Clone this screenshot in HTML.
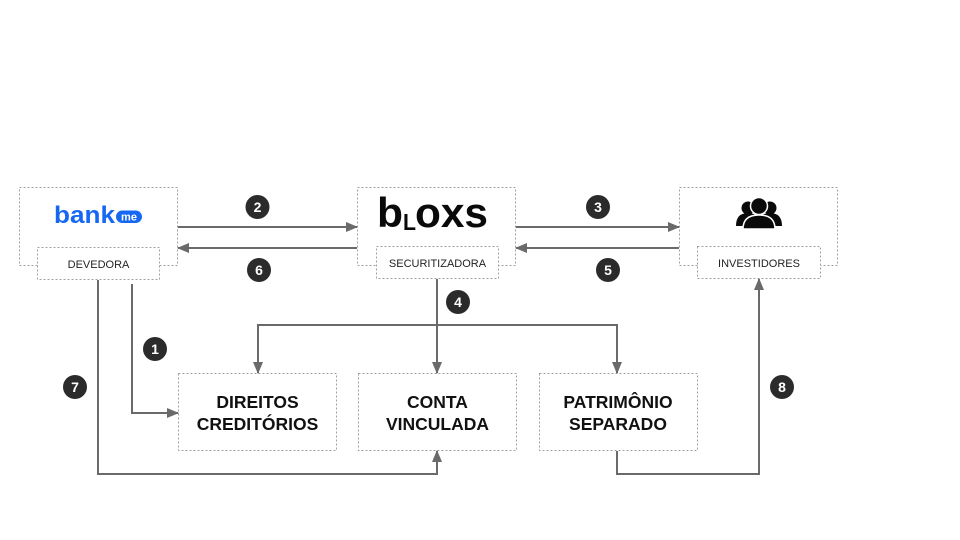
<!DOCTYPE html>
<html><head><meta charset="utf-8">
<style>
html,body{margin:0;padding:0;background:#fff;}
svg{display:block;}
</style></head>
<body>
<svg width="960" height="540" viewBox="0 0 960 540" xmlns="http://www.w3.org/2000/svg">
<defs>
<marker id="ah" markerWidth="12" markerHeight="10" refX="11" refY="5" orient="auto" markerUnits="userSpaceOnUse">
<path d="M0,0 L12,5 L0,10 Z" fill="#6a6a6a"/>
</marker>
</defs>
<rect width="960" height="540" fill="#fff"/>

<g fill="#fff" stroke="#a0a0a0" stroke-width="1" stroke-dasharray="2,2">
<rect x="19.5" y="187.5" width="158" height="78"/>
<rect x="357.5" y="187.5" width="158" height="78"/>
<rect x="679.5" y="187.5" width="158" height="78"/>
<rect x="37.5" y="247.5" width="122" height="32"/>
<rect x="376.5" y="246.5" width="122" height="32"/>
<rect x="697.5" y="246.5" width="123" height="32"/>
<rect x="178.5" y="373.5" width="158" height="77"/>
<rect x="358.5" y="373.5" width="158" height="77"/>
<rect x="539.5" y="373.5" width="158" height="77"/>
</g>

<g stroke="#6a6a6a" stroke-width="2" fill="none">
<line x1="178" y1="227" x2="357" y2="227" marker-end="url(#ah)"/>
<line x1="357" y1="248" x2="178" y2="248" marker-end="url(#ah)"/>
<line x1="516" y1="227" x2="679" y2="227" marker-end="url(#ah)"/>
<line x1="679" y1="248" x2="516" y2="248" marker-end="url(#ah)"/>
<polyline points="132,284 132,413 178,413" marker-end="url(#ah)"/>
<polyline points="98,280 98,474 437,474 437,451" marker-end="url(#ah)"/>
<line x1="437" y1="279" x2="437" y2="373" marker-end="url(#ah)"/>
<polyline points="437,325 258,325 258,373" marker-end="url(#ah)"/>
<polyline points="437,325 617,325 617,373" marker-end="url(#ah)"/>
<polyline points="617,451 617,474 759,474 759,279" marker-end="url(#ah)"/>
</g>

<g font-family="Liberation Sans, sans-serif" font-weight="bold" font-size="14" fill="#fff" text-anchor="middle">
<circle cx="257.5" cy="207" r="12" fill="#2b2b2b"/><text x="257.5" y="212">2</text>
<circle cx="259" cy="270" r="12" fill="#2b2b2b"/><text x="259" y="275">6</text>
<circle cx="598" cy="207" r="12" fill="#2b2b2b"/><text x="598" y="212">3</text>
<circle cx="608" cy="270" r="12" fill="#2b2b2b"/><text x="608" y="275">5</text>
<circle cx="458" cy="302" r="12" fill="#2b2b2b"/><text x="458" y="307">4</text>
<circle cx="155" cy="349" r="12" fill="#2b2b2b"/><text x="155" y="354">1</text>
<circle cx="75" cy="387" r="12" fill="#2b2b2b"/><text x="75" y="392">7</text>
<circle cx="782" cy="387" r="12" fill="#2b2b2b"/><text x="782" y="392">8</text>
</g>

<g font-family="Liberation Sans, sans-serif" font-size="11" fill="#222" text-anchor="middle">
<text x="98.5" y="268">DEVEDORA</text>
<text x="437.5" y="267">SECURITIZADORA</text>
<text x="759" y="267">INVESTIDORES</text>
</g>

<g font-family="Liberation Sans, sans-serif" font-weight="bold" font-size="17.5" fill="#111" text-anchor="middle">
<text x="257.5" y="408">DIREITOS</text>
<text x="257.5" y="430">CREDITÓRIOS</text>
<text x="437.5" y="408">CONTA</text>
<text x="437.5" y="430">VINCULADA</text>
<text x="618" y="408">PATRIMÔNIO</text>
<text x="618" y="430">SEPARADO</text>
</g>

<g>
<text x="54" y="223" font-family="Liberation Sans, sans-serif" font-weight="bold" font-size="24" fill="#1668f2" textLength="61" lengthAdjust="spacingAndGlyphs">bank</text>
<rect x="116" y="210.5" width="26" height="12.5" rx="6.25" fill="#1668f2"/>
<text x="129" y="220.5" font-family="Liberation Sans, sans-serif" font-weight="bold" font-size="11" fill="#fff" text-anchor="middle">me</text>
</g>

<g font-family="Liberation Sans, sans-serif" font-weight="bold" fill="#0a0a0a">
<text x="377" y="227" font-size="42" textLength="26" lengthAdjust="spacingAndGlyphs">b</text>
<text x="403" y="230" font-size="23" textLength="13" lengthAdjust="spacingAndGlyphs">L</text>
<text x="415" y="227" font-size="42" textLength="73" lengthAdjust="spacingAndGlyphs">oxs</text>
</g>

<g fill="#0a0a0a">
<circle cx="748" cy="208" r="6.5"/>
<circle cx="770" cy="208" r="6.5"/>
<path d="M736,226 Q736,213 748,213 Q760,213 760,226 Z"/>
<path d="M758,226 Q758,213 770,213 Q782,213 782,226 Z"/>
<circle cx="759" cy="206" r="8.5" stroke="#fff" stroke-width="1.5"/>
<path d="M743,229 Q743,215 759,215 Q775,215 775,229 Z" stroke="#fff" stroke-width="1.5"/>
</g>
</svg>
</body></html>
